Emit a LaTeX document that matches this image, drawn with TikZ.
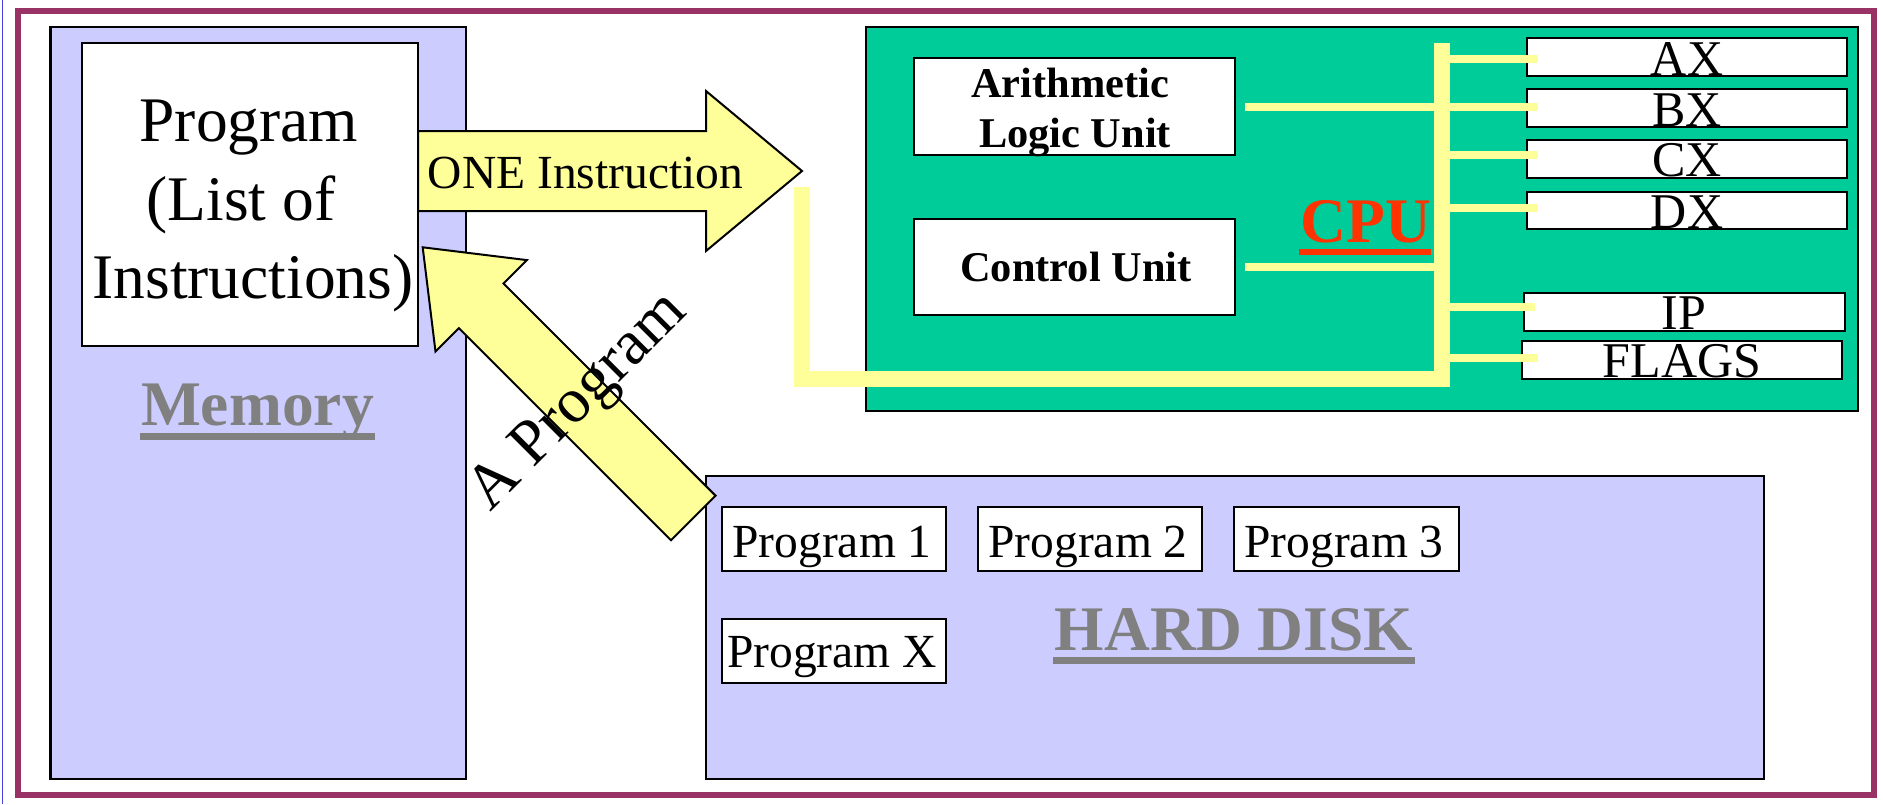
\documentclass[tikz,border=0pt]{standalone}
\usepackage{fontspec}
\setmainfont{Liberation Serif}
\definecolor{framec}{HTML}{993366}
\definecolor{lav}{HTML}{CCCCFF}
\definecolor{cpugreen}{HTML}{00CC99}
\definecolor{busy}{HTML}{FFFF99}
\definecolor{cpured}{HTML}{FF3300}
\definecolor{labgrey}{HTML}{808080}
\definecolor{edgeblue}{HTML}{4444DD}
\begin{document}
\begin{tikzpicture}[x=1pt,y=-1pt,
  box/.style={draw=black, line width=2.4pt, inner sep=0pt, outer sep=0pt, anchor=north west},
  lavbox/.style={box, fill=lav},
  whitebox/.style={box, fill=white},
  greenbox/.style={box, fill=cpugreen},
  txt/.style={inner sep=0pt, outer sep=0pt, anchor=base},
  bigtxt/.style={txt, font=\fontsize{63.5}{76}\selectfont},
  midtxt/.style={txt, font=\fontsize{47.5}{57}\selectfont},
  regtxt/.style={txt, font=\fontsize{50}{60}\selectfont},
  unittxt/.style={txt, font=\fontsize{42.4}{50}\selectfont\bfseries},
  headtxt/.style={txt, font=\fontsize{63.5}{76}\selectfont\bfseries},
  bus/.style={draw=busy, line width=16pt, line cap=butt, line join=miter},
  stub/.style={draw=busy, line width=7.7pt, line cap=butt},
  blockarrow/.style={fill=busy, draw=black, line width=2pt, line join=miter}
]
\useasboundingbox (0,0) rectangle (1883,804);
\fill[white] (0,0) rectangle (1883,804);
\draw[edgeblue, line width=1pt] (2.3,0) -- (2.3,804);
% outer frame
\draw[framec, line width=5.5pt] (18.2,11.2) rectangle (1874,795);

% memory
\node[lavbox, minimum width=415.5pt, minimum height=752pt] (mem) at (50.5,27) {};
\node[whitebox, minimum width=336pt, minimum height=303pt] (prog) at (82,43) {};
\node[bigtxt] (pl1) at (249,141) {Program};
\node[bigtxt] (pl2) at (241,220) {(List of};
\node[bigtxt] (pl3) at (253,298) {Instructions)};
\node[headtxt, text=labgrey] (memlab) at (257.4,425.7) {Memory};
\draw[labgrey, line width=6.7pt] (140,436.5) -- (375,436.5);

% hard disk
\node[lavbox, minimum width=1058pt, minimum height=303pt] (hd) at (706,476) {};
\node[whitebox, minimum width=224pt, minimum height=64pt] (p1) at (722,507) {};
\node[whitebox, minimum width=224pt, minimum height=64pt] (p2) at (978,507) {};
\node[whitebox, minimum width=225pt, minimum height=64pt] (p3) at (1234,507) {};
\node[whitebox, minimum width=224pt, minimum height=64pt] (px) at (722,619) {};
\node[midtxt] (p1t) at (832,557) {Program 1};
\node[midtxt] (p2t) at (1088,557) {Program 2};
\node[midtxt] (p3t) at (1344,557) {Program 3};
\node[midtxt] (pxt) at (832,667) {Program X};
\node[headtxt, text=labgrey] (hdlab) at (1234,650) {HARD DISK};
\draw[labgrey, line width=6.7pt] (1053,660.5) -- (1415,660.5);

% CPU
\node[greenbox, minimum width=992pt, minimum height=384pt] (cpu) at (866,27) {};
\node[whitebox, minimum width=321pt, minimum height=97pt] (alu) at (914,58) {};
\node[whitebox, minimum width=321pt, minimum height=96pt] (cu) at (914,219) {};
\node[unittxt] (alut1) at (1070,97) {Arithmetic};
\node[unittxt] (alut2) at (1075,147) {Logic Unit};
\node[unittxt] (cut) at (1076,281.7) {Control Unit};

\node[whitebox, minimum width=320pt, minimum height=38pt] (ax) at (1527,38) {};
\node[whitebox, minimum width=320pt, minimum height=38pt] (bx) at (1527,89) {};
\node[whitebox, minimum width=320pt, minimum height=38pt] (cx) at (1527,140) {};
\node[whitebox, minimum width=320pt, minimum height=37pt] (dx) at (1527,192) {};
\node[whitebox, minimum width=321pt, minimum height=38pt] (ip) at (1524,293) {};
\node[whitebox, minimum width=320pt, minimum height=38pt] (flags) at (1522,341) {};
\node[regtxt] (axt) at (1687,75) {AX};
\node[regtxt] (bxt) at (1687,126) {BX};
\node[regtxt] (cxt) at (1687,176.7) {CX};
\node[regtxt] (dxt) at (1687,228) {DX};
\node[regtxt] (ipt) at (1684,329) {IP};
\node[regtxt] (flagst) at (1682,377.7) {FLAGS};

\node[headtxt, text=cpured] (cpulab) at (1366,242) {CPU};
\draw[cpured, line width=6pt] (1299,252) -- (1431,252);

% bus
\coordinate (busin) at (802,187);
\coordinate (busc1) at (802,379);
\coordinate (busc2) at (1442,379);
\coordinate (bustop) at (1442,43);
\draw[bus] (busin) -- (busc1) -- (busc2) -- (bustop);
\coordinate (aluo) at (1245,107);
\coordinate (cuo) at (1245,267);
\draw[stub] (aluo) -- (1442,107);
\draw[stub] (cuo) -- (1442,267);
\draw[stub] (1442,59) -- (1538,59);
\draw[stub] (1442,107) -- (1538,107);
\draw[stub] (1442,155) -- (1538,155);
\draw[stub] (1442,208) -- (1538,208);
\draw[stub] (1442,307) -- (1535,307);
\draw[stub] (1442,358) -- (1538,358);

% ONE Instruction arrow
\draw[blockarrow] (418,131) -- (706,131) -- (706,91) -- (802,171) -- (706,251) -- (706,211) -- (418,211) -- cycle;
\node[midtxt] (onei) at (585.5,188) {ONE Instruction};

% A Program arrow
\draw[blockarrow] (715.6,495.7) -- (503.5,283.5) -- (526.9,260.1) -- (422.7,247.3)
  -- (435.5,351.5) -- (458.9,328.1) -- (671,540.3) -- cycle;
\node[txt, anchor=base west, rotate=45, font=\fontsize{63.5}{76}\selectfont] (aprog) at (490,512) {A Program};
\end{tikzpicture}
\end{document}
